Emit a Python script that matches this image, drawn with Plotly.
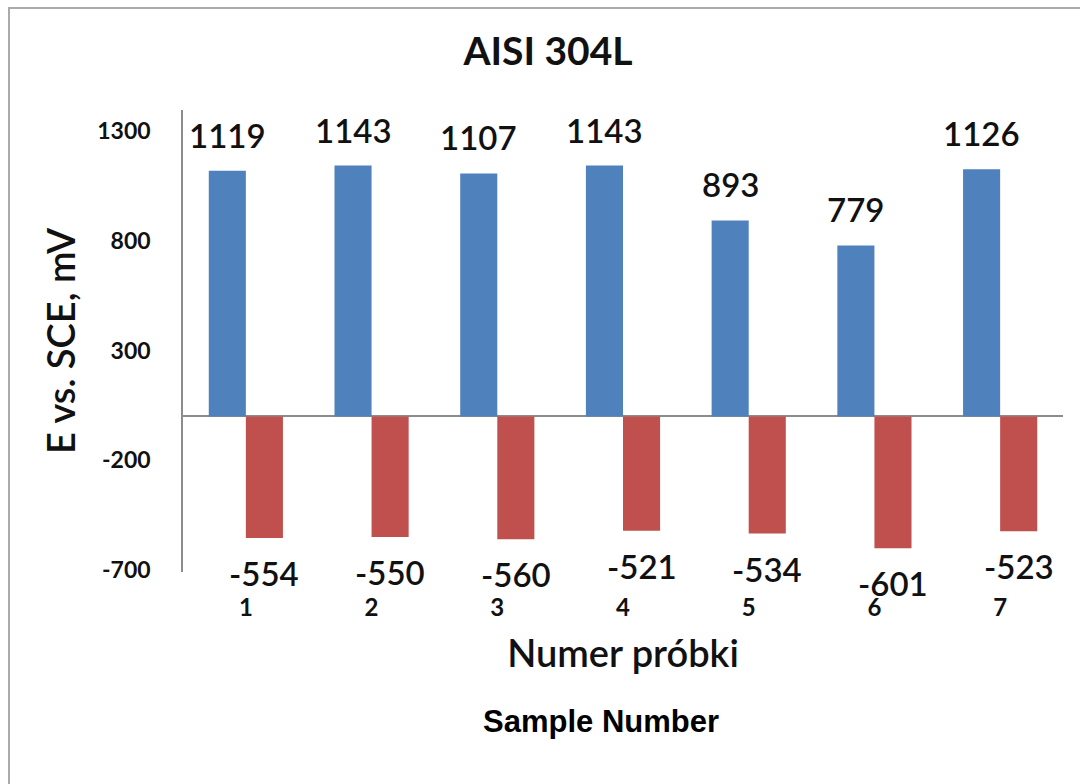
import plotly.graph_objects as go

samples = [1, 2, 3, 4, 5, 6, 7]
anodic = [1119, 1143, 1107, 1143, 893, 779, 1126]
cathodic = [-554, -550, -560, -521, -534, -601, -523]
y_ticks = [1300, 800, 300, -200, -700]

BLUE = "#4F81BD"
RED = "#C0504D"
FONT = "Lato"

bargap = 0.41
half = (1 - bargap) / 4  # offset of each bar centre from category centre

fig = go.Figure()
fig.add_trace(go.Bar(x=samples, y=anodic, marker=dict(color=BLUE, line=dict(width=0)),
                     name="anodic", hoverinfo="skip"))
fig.add_trace(go.Bar(x=samples, y=cathodic, marker=dict(color=RED, line=dict(width=0)),
                     name="cathodic", hoverinfo="skip"))

annotations = []
for s, v in zip(samples, anodic):
    annotations.append(dict(x=s - half, y=v, xref="x", yref="y", text=str(v), showarrow=False,
                            yanchor="bottom", yshift=14,
                            font=dict(family=FONT, size=33, color="#111", weight=600)))
for s, v in zip(samples, cathodic):
    annotations.append(dict(x=s + half, y=v, xref="x", yref="y", text=str(v), showarrow=False,
                            yanchor="top", yshift=-13,
                            font=dict(family=FONT, size=33, color="#111", weight=600)))

L, R, T, B = 183, 17, 110, 212
W, H = 1080, 784
pw, ph = W - L - R, H - T - B

def px_x(px):
    return (px - L) / pw

def px_y(py):
    return (H - B - py) / ph

annotations.append(dict(x=px_x(601), y=px_y(721), xref="paper", yref="paper", text="<b>Sample Number</b>",
                        showarrow=False, xanchor="center", yanchor="middle",
                        font=dict(family="Liberation Sans", size=31, color="#000")))

fig.update_layout(
    width=W, height=H,
    margin=dict(l=L, r=R, t=T, b=B, autoexpand=False),
    paper_bgcolor="white", plot_bgcolor="white",
    barmode="group", bargap=bargap, bargroupgap=0,
    showlegend=False,
    title=dict(text="<b>AISI 304L</b>", x=px_x(548), xref="paper", xanchor="center",
               y=1 - 51 / H, yref="container", yanchor="middle",
               font=dict(family=FONT, size=39, color="#111")),
    annotations=annotations,
    shapes=[dict(type="rect", xref="paper", yref="paper", x0=px_x(9), y0=px_y(900), x1=px_x(1200), y1=px_y(8),
                 line=dict(color="#aaaaaa", width=2), fillcolor="rgba(0,0,0,0)", layer="below")],
)

fig.update_xaxes(
    range=[0.5, 7.5], tickvals=samples, ticktext=[str(s) for s in samples],
    showline=False, showgrid=False, zeroline=False, ticks="",
    tickfont=dict(family=FONT, size=24, color="#111", weight="bold"),
    ticklabelstandoff=19,
    title=dict(text="Numer próbki", font=dict(family=FONT, size=38, color="#111", weight=600), standoff=20),
)
fig.update_yaxes(
    range=[-709, 1396], tickvals=y_ticks, ticktext=[str(v) for v in y_ticks],
    showline=True, linecolor="#8c8c8c", linewidth=1.5, showgrid=False,
    zeroline=True, zerolinecolor="#8c8c8c", zerolinewidth=1.5, ticks="",
    tickfont=dict(family=FONT, size=23, color="#111", weight="bold"),
    ticklabelstandoff=26,
    title=dict(text="E vs. SCE, mV", font=dict(family=FONT, size=38, color="#111", weight=600), standoff=10),
)

fig.write_html("out.html")
